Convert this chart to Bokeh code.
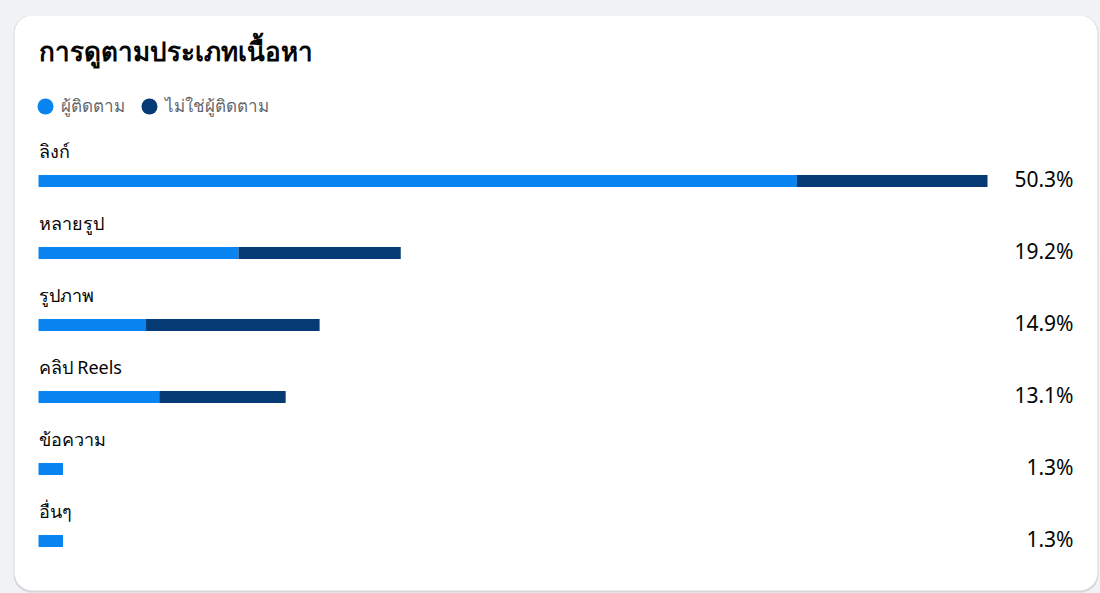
from bokeh.plotting import figure
from bokeh.models import Range1d, BoxAnnotation, ColumnDataSource
from bokeh.core.properties import value
from bokeh.embed import file_html
from bokeh.resources import INLINE

# ---------------- data ----------------
TITLE = "การดูตามประเภทเนื้อหา"
SERIES = ["ผู้ติดตาม", "ไม่ใช่ผู้ติดตาม"]
CATEGORIES = ["ลิงก์", "หลายรูป", "รูปภาพ", "คลิป Reels", "ข้อความ", "อื่นๆ"]
FOLLOWERS = [40.2, 10.6, 5.7, 6.4, 1.3, 1.3]
NON_FOLLOWERS = [10.1, 8.6, 9.2, 6.7, 0.0, 0.0]

# ---------------- style ----------------
COLORS = ["#0a84f0", "#053a74"]
BG = "#f0f2f5"
FONT = "Noto Sans"

W, H = 1100, 593
PX = 949 / 50.3      # pixels per percent
X0 = 38              # pixel x of 0 %
ROW = 72             # pixel distance between rows
Y0 = 180.5           # pixel y of first bar centre


def fx(px):
    return (px - X0) / PX


def fy(py):
    return (py - Y0) / ROW


totals = [f + n for f, n in zip(FOLLOWERS, NON_FOLLOWERS)]
rows = list(range(len(CATEGORIES)))

p = figure(width=W, height=H, output_backend="svg", toolbar_location=None,
           x_range=Range1d(fx(0), fx(W)), y_range=Range1d(fy(H), fy(0)),
           x_axis_location=None, y_axis_location=None,
           min_border=0, background_fill_color=BG, border_fill_color=BG,
           outline_line_color=None)
p.grid.visible = False

# card with soft shadow
p.add_layout(BoxAnnotation(left=fx(13), right=fx(1098), top=fy(15), bottom=fy(592),
                           fill_color="#d6d8dc", fill_alpha=1, line_color=None,
                           border_radius=18, level="underlay"))
p.add_layout(BoxAnnotation(left=fx(14), right=fx(1097), top=fy(15), bottom=fy(590),
                           fill_color="white", fill_alpha=1, line_color=None,
                           border_radius=18, level="underlay"))

src = ColumnDataSource(dict(
    y=rows, cat=CATEGORIES, f=FOLLOWERS, n=NON_FOLLOWERS, t=totals,
    lab=[f"{t:.1f}%" for t in totals],
))

bh = 12 / ROW
p.hbar(y="y", left=0, right="f", height=bh, source=src, fill_color=COLORS[0], line_color=None)
p.hbar(y="y", left="f", right="t", height=bh, source=src, fill_color=COLORS[1], line_color=None)

# category labels
p.text(x=0, y="y", text="cat", source=src, y_offset=-30,
       text_font=value(FONT), text_font_size="18px", text_color="#050505",
       text_baseline="alphabetic", text_align="left")

# totals on the right
p.text(x=fx(1073), y="y", text="lab", source=src, y_offset=-2,
       text_font=value(FONT), text_font_size="21px", text_color="#050505",
       text_baseline="alphabetic", text_align="right")

# title
p.text(x=[0], y=[fy(50)], text=[TITLE], text_font=value(FONT),
       text_font_size="26px", text_font_style="bold", text_color="#050505",
       text_baseline="alphabetic", text_align="left")

# legend
p.scatter(x=[fx(45), fx(149)], y=[fy(106), fy(106)], size=16, marker="circle",
          fill_color=COLORS, line_color=None)
p.text(x=[fx(60), fx(164)], y=[fy(105), fy(105)], text=SERIES, text_font=value(FONT),
       text_font_size="17px", text_color="#65676b",
       text_baseline="alphabetic", text_align="left")

html = file_html(p, INLINE, title=TITLE)
html = html.replace("<body>", '<body style="background:#f0f2f5">')
open("out.html", "w").write(html)
